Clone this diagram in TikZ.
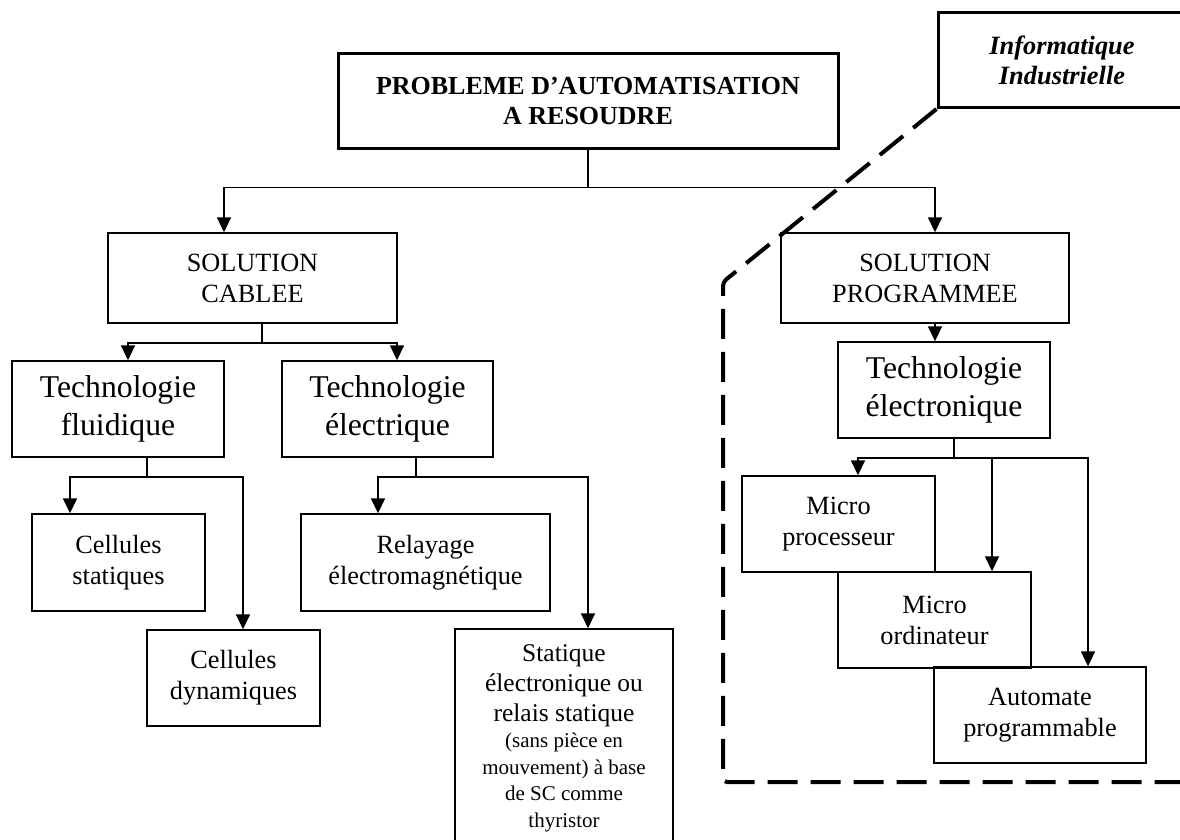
\documentclass[tikz,border=0pt]{standalone}
\usepackage{fontspec}
\setmainfont{Liberation Serif}
\usetikzlibrary{arrows.meta}
\begin{document}
\begin{tikzpicture}[x=1pt,y=-1pt,
  box/.style={draw,line width=1.4pt,align=center,inner sep=0pt,
    font=\fontsize{26.3}{31}\selectfont},
  techbox/.style={box,font=\fontsize{31.7}{38}\selectfont},
  thickbox/.style={draw,line width=3pt,align=center,inner sep=0pt},
  link/.style={line width=1.6pt},
  arr/.style={link,-{Triangle[length=15pt,width=14pt]}},
  zone/.style={line width=4pt,dash pattern=on 30pt off 13pt,rounded corners=4pt}
]
\useasboundingbox (0,0) rectangle (1180,839);
\fill[white] (0,0) rectangle (1180,839);
\clip (0,0) rectangle (1180,839);

% boxes
\node[thickbox,minimum width=500pt,minimum height=95pt,
  font=\bfseries\fontsize{26}{30}\selectfont] (top) at (588,100.5)
  {PROBLEME D’AUTOMATISATION\\A RESOUDRE};
\node[thickbox,minimum width=248pt,minimum height=95pt,
  font=\bfseries\itshape\fontsize{26.4}{30}\selectfont] (info) at (1062,60)
  {Informatique\\Industrielle};

\node[box,minimum width=289pt,minimum height=90pt] (cab) at (252.5,278) {SOLUTION\\CABLEE};
\node[box,minimum width=288pt,minimum height=90pt] (prog) at (925,278) {SOLUTION\\PROGRAMMEE};

\node[techbox,minimum width=212pt,minimum height=96pt] (tfl) at (118,409) {Technologie\\fluidique};
\node[techbox,minimum width=211pt,minimum height=96pt] (tel) at (387.5,409) {Technologie\\électrique};
\node[techbox,minimum width=212pt,minimum height=96pt] (tele) at (944,390) {Technologie\\électronique};

\node[box,minimum width=173pt,minimum height=97pt] (cst) at (118.5,562.5) {Cellules\\statiques};
\node[box,minimum width=173pt,minimum height=96pt] (cdy) at (233.5,678) {Cellules\\dynamiques};
\node[box,minimum width=249pt,minimum height=97pt] (rel) at (425.5,562.5) {Relayage\\électromagnétique};
\node[box,align=flush center,minimum width=218pt,minimum height=218pt,text width=210pt] (sta) at (564,738)
  {\fontsize{25.5}{30}\selectfont Statique\\électronique ou\\relais statique\par
   \fontsize{21}{26.5}\selectfont (sans pièce en\\mouvement) à base\\de SC comme\\thyristor\par};

\node[box,minimum width=193pt,minimum height=96pt] (mpr) at (838.5,524) {Micro\\processeur};
\node[box,minimum width=193pt,minimum height=96pt] (mor) at (934.5,620) {Micro\\ordinateur};
\node[box,minimum width=212pt,minimum height=96pt] (aut) at (1040,715) {Automate\\programmable};

% connectors
\draw[link] (top.south) -- ++(0,38) coordinate (top-j);
\draw[arr] (top-j) -| ([xshift=-28.5pt]cab.north);
\draw[arr] (top-j) -| ([xshift=10pt]prog.north);

\draw[link] ([xshift=9.5pt]cab.south) -- ++(0,19) coordinate (cab-j);
\draw[arr] (cab-j) -| ([xshift=10pt]tfl.north);
\draw[arr] (cab-j) -| ([xshift=9.5pt]tel.north);

\draw[link] ([xshift=29pt]tfl.south) -- ++(0,19) coordinate (tfl-j);
\draw[arr] (tfl-j) -| ([xshift=-48.5pt]cst.north);
\draw[arr] (tfl-j) -| ([xshift=9.5pt]cdy.north);

\draw[link] ([xshift=28.5pt]tel.south) -- ++(0,19) coordinate (tel-j);
\draw[arr] (tel-j) -| ([xshift=-47.5pt]rel.north);
\draw[arr] (tel-j) -| ([xshift=24pt]sta.north);

\draw[arr] ([xshift=10pt]prog.south) -- ([xshift=-9pt]tele.north);

\draw[link] ([xshift=10pt]tele.south) -- ++(0,19) coordinate (tele-j);
\draw[arr] (tele-j) -| ([xshift=19.5pt]mpr.north);
\draw[arr] (tele-j) -| ([xshift=57.5pt]mor.north);
\draw[arr] (tele-j) -| ([xshift=48pt]aut.north);

% dashed boundary of the industrial computing area
\coordinate (zone-a) at (723,282);
\coordinate (zone-b) at (723,782);
\coordinate (zone-c) at (1200,782);
\draw[zone] (info.south west) -- (zone-a) -- (zone-b) -- (zone-c);
\end{tikzpicture}
\end{document}
